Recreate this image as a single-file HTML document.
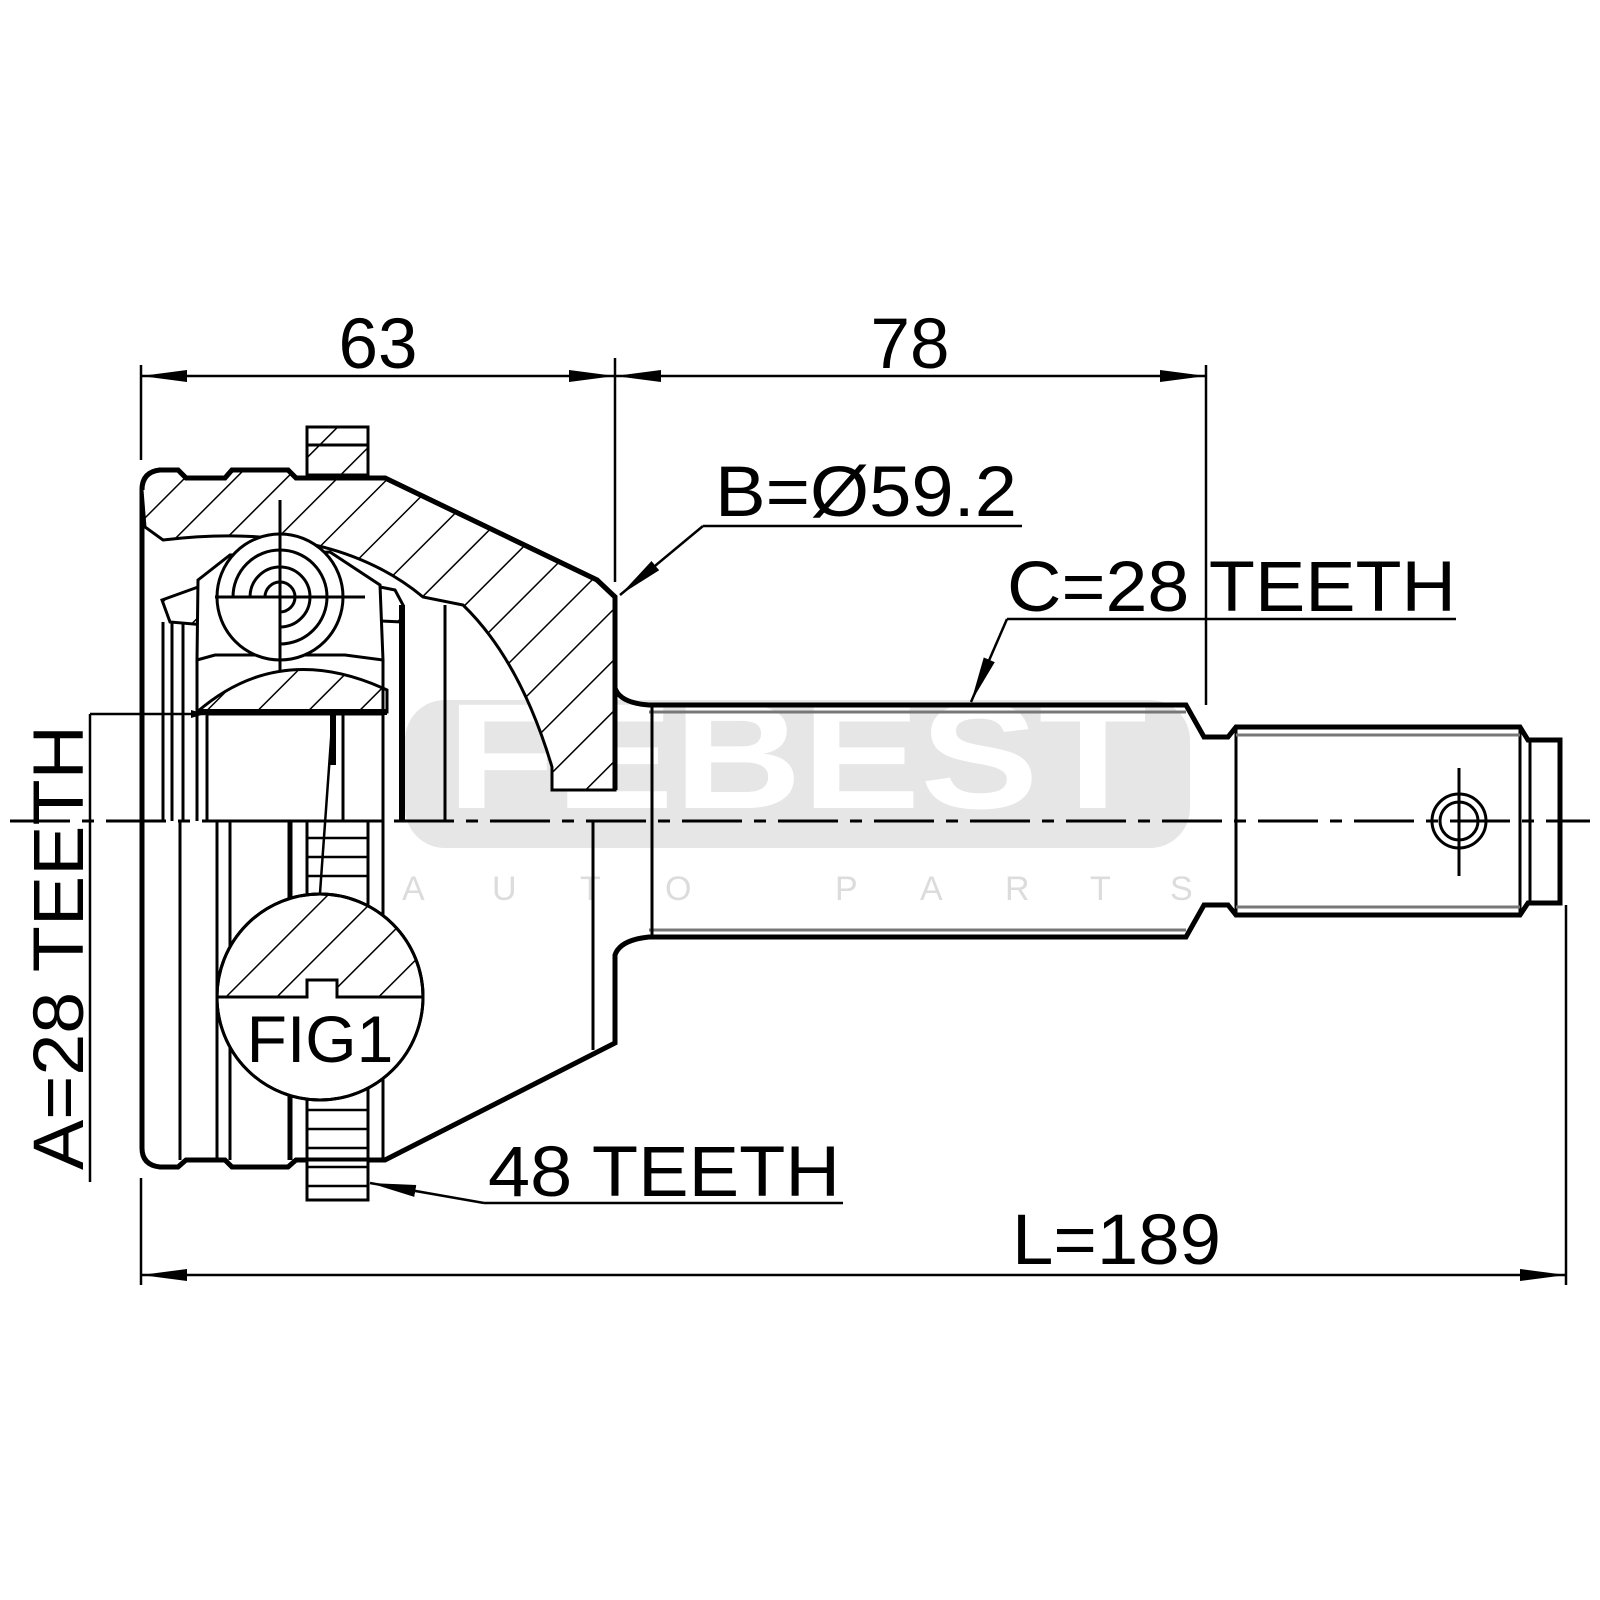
<!DOCTYPE html>
<html><head><meta charset="utf-8"><style>
html,body{margin:0;padding:0;background:#fff}
svg{display:block}
text{font-family:"Liberation Sans",sans-serif;fill:#000}
</style></head><body>
<svg width="1600" height="1600" viewBox="0 0 1600 1600" xmlns="http://www.w3.org/2000/svg">
<defs>
<pattern id="h" patternUnits="userSpaceOnUse" width="36" height="36" patternTransform="rotate(45)">
<rect width="36" height="36" fill="#fff"/>
<line x1="0" y1="0" x2="0" y2="36" stroke="#000" stroke-width="3"/>
</pattern>
<marker id="ar" markerWidth="14" markerHeight="8" refX="14" refY="4" orient="auto" markerUnits="userSpaceOnUse">
<path d="M0,0 L14,4 L0,8 Z" fill="#000"/>
</marker>
<marker id="ab" markerWidth="46" markerHeight="14" refX="46" refY="7" orient="auto-start-reverse" markerUnits="userSpaceOnUse">
<path d="M0,1 L46,7 L0,13 Z" fill="#000"/>
</marker>
</defs>

<!-- watermark -->
<rect x="405" y="700" width="785" height="148" rx="40" fill="#e6e6e6"/>
<text x="797" y="808" font-size="150" font-weight="bold" style="fill:#fff" text-anchor="middle" textLength="700" lengthAdjust="spacingAndGlyphs">FEBEST</text>
<g font-size="34">
<text x="402" y="900" style="fill:#dcdcdc">A</text><text x="492" y="900" style="fill:#dcdcdc">U</text><text x="580" y="900" style="fill:#dcdcdc">T</text><text x="665" y="900" style="fill:#dcdcdc">O</text>
<text x="835" y="900" style="fill:#dcdcdc">P</text><text x="920" y="900" style="fill:#dcdcdc">A</text><text x="1005" y="900" style="fill:#dcdcdc">R</text><text x="1090" y="900" style="fill:#dcdcdc">T</text><text x="1170" y="900" style="fill:#dcdcdc">S</text>
</g>

<g fill="none" stroke="#000" stroke-width="3">
<path d="M142,490 Q142,472 160,470 L178,470 L186,478 L225,478 L232,470 L288,470 L296,478 L385,478 L597,580 L615,597 L615,688 Q620,703 649,705 L1186,705 L1204,737 L1228,737 L1236,727 L1520,727 L1528,740 L1560,740 L1560,903 L1528,903 L1520,915 L1236,915 L1228,905 L1204,905 L1186,937 L649,937 Q620,940 615,955 L615,1043 L385,1160 L296,1160 L288,1167 L232,1167 L225,1160 L186,1160 L178,1167 L160,1167 Q142,1165 142,1148 Z" stroke-width="5"/>
</g>

<path d="M142,490 Q142,472 160,470 L178,470 L186,478 L225,478 L232,470 L288,470 L296,478 L385,478 L597,580 L615,597 L615,790 L552,790 L552,767 Q520,660 463,605 L423,597 Q330,520 163,540 L145,527 Z" fill="url(#h)" stroke="#000" stroke-width="3"/>
<path d="M142,490 Q142,472 160,470 L178,470 L186,478 L225,478 L232,470 L288,470 L296,478 L385,478 L597,580 L615,597 L615,790" fill="none" stroke="#000" stroke-width="5"/>

<rect x="307" y="427" width="61" height="48" fill="url(#h)" stroke="#000" stroke-width="3"/>
<line x1="307" y1="445" x2="368" y2="445" stroke="#000" stroke-width="3"/>
<rect x="307" y="1160" width="61" height="40" fill="#fff" stroke="#000" stroke-width="3"/>

<g fill="none" stroke="#000" stroke-width="3">
<path d="M162,600 L212,582 L250,585 L250,615 L205,625 L170,622 Z" fill="url(#h)"/>
<path d="M345,580 L395,590 L403,605 L403,622 L360,620 L345,605 Z" fill="url(#h)"/>
<path d="M198,580 L230,555 L330,552 L380,585 L383,660 L345,655 L215,655 L197,660 Z" fill="#fff"/>
<circle cx="280" cy="597" r="63" fill="#fff"/>
<path d="M233,597 A47,47 0 1 1 280,644"/>
<path d="M250,597 A30,30 0 1 1 280,627"/>
<path d="M265,597 A15,15 0 1 1 280,612"/>
<line x1="215" y1="597" x2="365" y2="597"/>
<line x1="280" y1="500" x2="280" y2="690"/>
<path d="M197,712 Q280,640 387,690 L387,712 Z" fill="url(#h)"/>
<rect x="207" y="714" width="176" height="107" fill="#fff"/>
<line x1="197" y1="712" x2="387" y2="712" stroke-width="6"/>
<line x1="333" y1="712" x2="333" y2="765" stroke-width="6"/>
<line x1="343" y1="714" x2="343" y2="821"/>
<line x1="163" y1="622" x2="163" y2="821"/>
<line x1="172" y1="622" x2="172" y2="821"/>
<line x1="183" y1="622" x2="183" y2="821"/>
<line x1="197" y1="660" x2="197" y2="821"/>
<line x1="383" y1="660" x2="383" y2="821"/>
<line x1="402" y1="605" x2="402" y2="821" stroke-width="6"/>
<line x1="445" y1="605" x2="445" y2="821"/>
<line x1="180" y1="821" x2="180" y2="1160"/>
<line x1="217" y1="821" x2="217" y2="1160"/>
<line x1="230" y1="821" x2="230" y2="1160"/>
<line x1="290" y1="821" x2="290" y2="1160" stroke-width="5"/>
<line x1="307" y1="821" x2="307" y2="1200"/>
<line x1="368" y1="821" x2="368" y2="1200"/>
<line x1="383" y1="821" x2="383" y2="1160"/>
<line x1="593" y1="821" x2="593" y2="1050"/>
<g stroke-width="2.5">
<line x1="307" y1="838" x2="368" y2="838"/><line x1="307" y1="857" x2="368" y2="857"/><line x1="307" y1="876" x2="368" y2="876"/>
<line x1="307" y1="1110" x2="368" y2="1110"/><line x1="307" y1="1129" x2="368" y2="1129"/><line x1="307" y1="1148" x2="368" y2="1148"/><line x1="307" y1="1167" x2="368" y2="1167"/><line x1="307" y1="1186" x2="368" y2="1186"/>
</g>
<line x1="649" y1="712" x2="1186" y2="712" stroke="#777" stroke-width="3"/>
<line x1="649" y1="930" x2="1186" y2="930" stroke="#777" stroke-width="3"/>
<line x1="652" y1="705" x2="652" y2="937"/>
<line x1="1236" y1="727" x2="1236" y2="915"/>
<line x1="1520" y1="727" x2="1520" y2="915"/>
<line x1="1236" y1="735" x2="1520" y2="735" stroke="#777"/>
<line x1="1236" y1="907" x2="1520" y2="907" stroke="#777"/>
<line x1="1530" y1="742" x2="1530" y2="901"/>
<circle cx="1459" cy="821" r="27"/>
<circle cx="1459" cy="821" r="19"/>
<line x1="1459" y1="768" x2="1459" y2="876"/>
</g>

<circle cx="320" cy="997" r="103" fill="#fff" stroke="#000" stroke-width="3"/>
<path d="M217,997 A103,103 0 0 1 423,997 L337,997 L337,980 L307,980 L307,997 Z" fill="url(#h)" stroke="#000" stroke-width="3"/>
<circle cx="320" cy="997" r="103" fill="none" stroke="#000" stroke-width="3"/>
<text x="320" y="1062" font-size="66" text-anchor="middle">FIG1</text>
<line x1="320" y1="893" x2="333" y2="712" stroke="#000" stroke-width="2.5"/>

<line x1="10" y1="821" x2="1590" y2="821" stroke="#000" stroke-width="3" stroke-dasharray="60,12,12,12"/>

<g stroke="#000" stroke-width="2.5" fill="none">
<line x1="141" y1="365" x2="141" y2="460"/>
<line x1="615" y1="358" x2="615" y2="582"/>
<line x1="1206" y1="365" x2="1206" y2="705"/>
<line x1="141" y1="376" x2="615" y2="376" marker-start="url(#ab)" marker-end="url(#ab)"/>
<line x1="615" y1="376" x2="1206" y2="376" marker-start="url(#ab)" marker-end="url(#ab)"/>
<line x1="141" y1="1178" x2="141" y2="1285"/>
<line x1="1566" y1="905" x2="1566" y2="1285"/>
<line x1="141" y1="1275" x2="1566" y2="1275" marker-start="url(#ab)" marker-end="url(#ab)"/>
<line x1="90" y1="714" x2="90" y2="1182"/>
<line x1="90" y1="714" x2="205" y2="714" marker-end="url(#ar)"/>
<line x1="703" y1="526" x2="1022" y2="526"/>
<line x1="703" y1="526" x2="620" y2="595" marker-end="url(#ab)"/>
<line x1="1007" y1="619" x2="1456" y2="619"/>
<line x1="1007" y1="619" x2="971" y2="702" marker-end="url(#ab)"/>
<line x1="484" y1="1203" x2="843" y2="1203"/>
<line x1="484" y1="1203" x2="370" y2="1183" marker-end="url(#ab)"/>
</g>
<g font-size="71">
<text x="378" y="368" text-anchor="middle">63</text>
<text x="910" y="368" text-anchor="middle">78</text>
<text x="715" y="516" textLength="302" lengthAdjust="spacingAndGlyphs">B=Ø59.2</text>
<text x="1007" y="611" textLength="449" lengthAdjust="spacingAndGlyphs">C=28 TEETH</text>
<text x="488" y="1196" textLength="352" lengthAdjust="spacingAndGlyphs">48 TEETH</text>
<text x="1012" y="1264" textLength="209" lengthAdjust="spacingAndGlyphs">L=189</text>
<text transform="translate(83,1170) rotate(-90)" textLength="445" lengthAdjust="spacingAndGlyphs">A=28 TEETH</text>
</g>
</svg>
</body></html>
